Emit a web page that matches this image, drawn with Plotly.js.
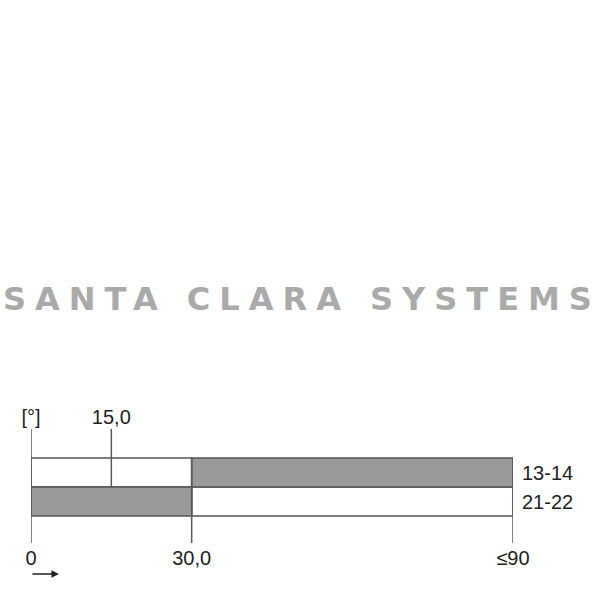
<!DOCTYPE html>
<html>
<head>
<meta charset="utf-8">
<script src="https://cdn.plot.ly/plotly-3.0.1.min.js"></script>
<style>
html, body { margin: 0; padding: 0; background: #fff; }
#chart { width: 600px; height: 600px; }
text[data-unformatted="SANTA CLARA SYSTEMS"] { letter-spacing: 9px; }
</style>
</head>
<body>
<div id="chart"></div>
<script>
// Contacts (rows) and their switching states over the travel angle [°]
const contacts = ['13-14', '21-22'];
const rowPos = [1, 0];
const closedStart = [30, 0];
const closedEnd = [90, 30];
const openStart = [0, 30];
const openEnd = [30, 90];

// Angle markers
const bottomTickVals = [0, 30, 90];
const bottomTickText = ['0', '30,0', '≤90'];
const topTickVals = [0, 15];
const topTickText = ['[°]', '15,0'];
const watermark = 'SANTA CLARA SYSTEMS';

const diff = (a, b) => a.map((v, i) => v - b[i]);

const outline = { color: '#555', width: 1.5 };
const traces = [
  {
    type: 'bar', orientation: 'h', y: rowPos, base: openStart, x: diff(openEnd, openStart),
    width: 1, marker: { color: '#ffffff', line: outline }, hoverinfo: 'skip', showlegend: false
  },
  {
    type: 'bar', orientation: 'h', y: rowPos, base: closedStart, x: diff(closedEnd, closedStart),
    width: 1, marker: { color: '#9a9a9a', line: outline }, hoverinfo: 'skip', showlegend: false
  },
  {
    type: 'scatter', mode: 'markers', x: topTickVals, y: [rowPos[0], rowPos[0]], xaxis: 'x2', yaxis: 'y',
    marker: { opacity: 0 }, hoverinfo: 'skip', showlegend: false
  }
];

const lineStyle = { color: '#5a5a5a', width: 1.5 };
const shapes = [
  // 0 line: full height
  { type: 'line', xref: 'x', yref: 'paper', x0: bottomTickVals[0], x1: bottomTickVals[0], y0: 0, y1: 1, line: lineStyle, layer: 'above' },
  // 15 line: from top down to the row divider
  { type: 'line', xref: 'x', yref: 'y', x0: topTickVals[1], x1: topTickVals[1], y0: 0.5, y1: 3, line: lineStyle, layer: 'above' },
  // 30 line: top of bars down below
  { type: 'line', xref: 'x', yref: 'y', x0: bottomTickVals[1], x1: bottomTickVals[1], y0: -3, y1: 1.5, line: lineStyle, layer: 'above' },
  // 90 line
  { type: 'line', xref: 'x', yref: 'y', x0: bottomTickVals[2], x1: bottomTickVals[2], y0: -3, y1: 1.5, line: lineStyle, layer: 'above' }
];

const tickFont = { family: 'Liberation Sans, Arial, sans-serif', size: 20, color: '#222' };

const layout = {
  width: 600, height: 600,
  margin: { l: 31, r: 87, t: 429, b: 57 },
  paper_bgcolor: '#fff', plot_bgcolor: 'rgba(0,0,0,0)',
  barmode: 'overlay',
  xaxis: {
    range: [0, 90], tickvals: bottomTickVals, ticktext: bottomTickText,
    showgrid: false, zeroline: false, showline: false, ticks: '',
    tickfont: tickFont, ticklabelstandoff: 1, fixedrange: true
  },
  xaxis2: {
    range: [0, 90], overlaying: 'x', side: 'top', anchor: 'y',
    tickvals: topTickVals, ticktext: topTickText,
    showgrid: false, zeroline: false, showline: false, ticks: '',
    tickfont: tickFont, fixedrange: true
  },
  yaxis: {
    range: [-1.431, 2.5], side: 'right', tickvals: rowPos, ticktext: contacts,
    showgrid: false, zeroline: false, showline: false, ticks: '',
    tickfont: tickFont, ticklabelstandoff: 8, fixedrange: true
  },
  shapes: shapes,
  annotations: [
    {
      xref: 'paper', yref: 'paper', x: 0.5622, y: 2.14, xanchor: 'center', yanchor: 'middle',
      text: watermark, showarrow: false,
      font: { family: 'DejaVu Sans, sans-serif', size: 32, weight: 'bold', color: '#aaaaaa' }
    },
    {
      xref: 'paper', yref: 'paper', x: 0.058, y: -0.272, text: '', showarrow: true,
      ax: -28, ay: 0, arrowhead: 2, arrowsize: 1, arrowwidth: 1.5, arrowcolor: '#222', standoff: 0
    }
  ]
};

Plotly.newPlot('chart', traces, layout, { staticPlot: true, displayModeBar: false });
</script>
</body>
</html>
